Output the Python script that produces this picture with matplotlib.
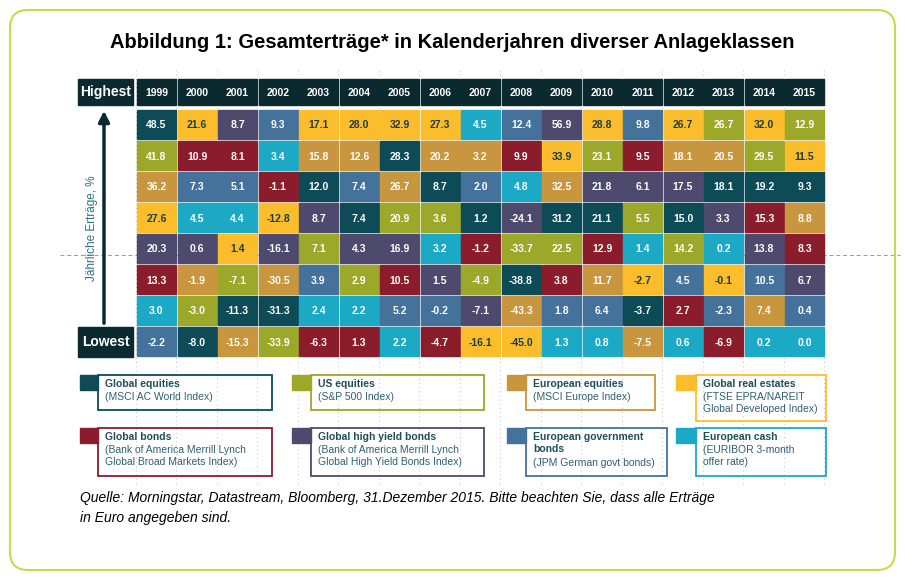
import matplotlib
matplotlib.use("Agg")
from matplotlib import pyplot as plt, patches

years = [str(y) for y in range(1999, 2016)]

# asset class per cell, top (highest) to bottom (lowest), one string per year
ranks = [
    "GUERHBCV", "RBVCHEUG", "HBVCRUGE", "VCBRHEGU", "REGHUVCB",
    "REVGHUCB", "RGEUHBVC", "REGUCHVB", "CEVGBUHR", "VBCHUGER",
    "HREGUBVC", "RUHGBEVC", "VBHUCRGE", "REHGUVBC", "UEGHCRVB",
    "RUGBHVEC", "URGEBHVC",
]
returns = [
    [48.5, 41.8, 36.2, 27.6, 20.3, 13.3, 3.0, -2.2],
    [21.6, 10.9, 7.3, 4.5, 0.6, -1.9, -3.0, -8.0],
    [8.7, 8.1, 5.1, 4.4, 1.4, -7.1, -11.3, -15.3],
    [9.3, 3.4, -1.1, -12.8, -16.1, -30.5, -31.3, -33.9],
    [17.1, 15.8, 12.0, 8.7, 7.1, 3.9, 2.4, -6.3],
    [28.0, 12.6, 7.4, 7.4, 4.3, 2.9, 2.2, 1.3],
    [32.9, 28.3, 26.7, 20.9, 16.9, 10.5, 5.2, 2.2],
    [27.3, 20.2, 8.7, 3.6, 3.2, 1.5, -0.2, -4.7],
    [4.5, 3.2, 2.0, 1.2, -1.2, -4.9, -7.1, -16.1],
    [12.4, 9.9, 4.8, -24.1, -33.7, -38.8, -43.3, -45.0],
    [56.9, 33.9, 32.5, 31.2, 22.5, 3.8, 1.8, 1.3],
    [28.8, 23.1, 21.8, 21.1, 12.9, 11.7, 6.4, 0.8],
    [9.8, 9.5, 6.1, 5.5, 1.4, -2.7, -3.7, -7.5],
    [26.7, 18.1, 17.5, 15.0, 14.2, 4.5, 2.7, 0.6],
    [26.7, 20.5, 18.1, 3.3, 0.2, -0.1, -2.3, -6.9],
    [32.0, 29.5, 19.2, 15.3, 13.8, 10.5, 7.4, 0.2],
    [12.9, 11.5, 9.3, 8.8, 8.3, 6.7, 0.4, 0.0],
]

class_colors = {
    "G": "#0d4b57", "U": "#9ba82a", "E": "#c8963e", "R": "#fbbd2c",
    "B": "#8a1c2c", "H": "#4e4a6d", "V": "#45729b", "C": "#1ca9c6",
}
legend_titles = {
    "G": "Global equities", "U": "US equities", "E": "European equities",
    "R": "Global real estates", "B": "Global bonds",
    "H": "Global high yield bonds", "V": "European government\nbonds",
    "C": "European cash",
}
legend_notes = {
    "G": "(MSCI AC World Index)", "U": "(S&P 500 Index)",
    "E": "(MSCI Europe Index)",
    "R": "(FTSE EPRA/NAREIT\nGlobal Developed Index)",
    "B": "(Bank of America Merrill Lynch\nGlobal Broad Markets Index)",
    "H": "(Bank of America Merrill Lynch\nGlobal High Yield Bonds Index)",
    "V": "(JPM German govt bonds)",
    "C": "(EURIBOR 3-month\noffer rate)",
}

HEADER = "#0a2a30"
TEXT = "#1f4e5a"

fig = plt.figure(figsize=(9.05, 5.8), dpi=100)
ax = fig.add_axes([0, 0, 1, 1])
ax.set_xlim(0, 905)
ax.set_ylim(580, 0)
ax.axis("off")

# outer rounded frame
ax.add_patch(patches.FancyBboxPatch((10, 10), 885, 560,
                                    boxstyle="round,pad=0,rounding_size=18",
                                    fill=False, edgecolor="#c9d84e", linewidth=1.5))
ax.text(452, 43, "Abbildung 1: Gesamterträge* in Kalenderjahren diverser Anlageklassen",
        ha="center", va="center", fontsize=14.5, fontweight="bold",
        family="Liberation Sans")

x0, pitch, cw = 137, 40.5, 39
y0, rpitch, ch = 110, 31, 29

# faint dotted grid
for i in range(18):
    ax.plot([x0 - 1.5 + i * pitch] * 2, [70, 485], color="#b0b0b0",
            lw=0.6, ls=(0, (1, 4)), zorder=0)

# header
ax.add_patch(patches.Rectangle((78, 79), 55, 26, color=HEADER))
ax.text(105.5, 92, "Highest", color="white", ha="center", va="center",
        fontsize=10, fontweight="bold", family="Liberation Sans")
ax.add_patch(patches.Rectangle((78, 327), 55, 30, color=HEADER))
ax.text(105.5, 342, "Lowest", color="white", ha="center", va="center",
        fontsize=10, fontweight="bold", family="Liberation Sans")
for i, yr in enumerate(years):
    x = x0 + i * pitch
    ax.add_patch(patches.Rectangle((x, 79), cw, 26, color=HEADER))
    ax.text(x + cw / 2, 93, yr, color="white", ha="center", va="center",
            fontsize=7.5, fontweight="bold", family="Liberation Sans")

# cells
for i in range(len(years)):
    for j in range(8):
        cls = ranks[i][j]
        x = x0 + i * pitch
        y = y0 + j * rpitch
        ax.add_patch(patches.Rectangle((x, y), cw, ch, color=class_colors[cls]))
        tc = "#1f3a3f" if cls == "R" else "white"
        ax.text(x + cw / 2, y + ch / 2 + 1, f"{returns[i][j]:.1f}", color=tc,
                ha="center", va="center", fontsize=7.5, fontweight="bold",
                family="Liberation Sans")

# arrow and axis label
ax.annotate("", xy=(104, 108), xytext=(104, 326),
            arrowprops=dict(arrowstyle="-|>", color=HEADER, lw=2.5,
                            mutation_scale=16))
ax.text(92, 228, "Jährliche Erträge, %", rotation=90, ha="center", va="center",
        color="#2c6f86", fontsize=8.5, family="Liberation Sans")
ax.plot([60, 900], [255, 255], color="#999999", lw=0.7, ls=(0, (4, 3)), zorder=0.5)

# legend boxes
legend_layout = [
    ("G", 80, 98, 272, 375, 410), ("U", 292, 311, 484, 375, 410),
    ("E", 507, 526, 655, 375, 410), ("R", 676, 696, 826, 375, 421),
    ("B", 80, 98, 272, 428, 476), ("H", 292, 311, 484, 428, 476),
    ("V", 507, 526, 667, 428, 476), ("C", 676, 696, 826, 428, 476),
]
for cls, sx, bx, bx2, by, by2 in legend_layout:
    col = class_colors[cls]
    ax.add_patch(patches.Rectangle((sx, by), bx - sx, 15, color=col))
    ax.add_patch(patches.Rectangle((bx, by), bx2 - bx, by2 - by, fill=False,
                                   edgecolor=col, lw=1.3))
    title = legend_titles[cls]
    ax.text(bx + 7, by + 4, title, color=TEXT, fontsize=7.5, fontweight="bold",
            va="top", family="Liberation Sans", linespacing=1.25)
    ny = by + 4 + 13 * (title.count("\n") + 1)
    ax.text(bx + 7, ny, legend_notes[cls], color="#2f6070", fontsize=7.5,
            va="top", family="Liberation Sans", linespacing=1.25)

ax.text(80, 508, "Quelle: Morningstar, Datastream, Bloomberg, 31.Dezember 2015. "
        "Bitte beachten Sie, dass alle Erträge\nin Euro angegeben sind.",
        ha="left", va="center", fontsize=10, style="italic",
        family="Liberation Sans", linespacing=1.5)

fig.savefig("out.png", dpi=100)
